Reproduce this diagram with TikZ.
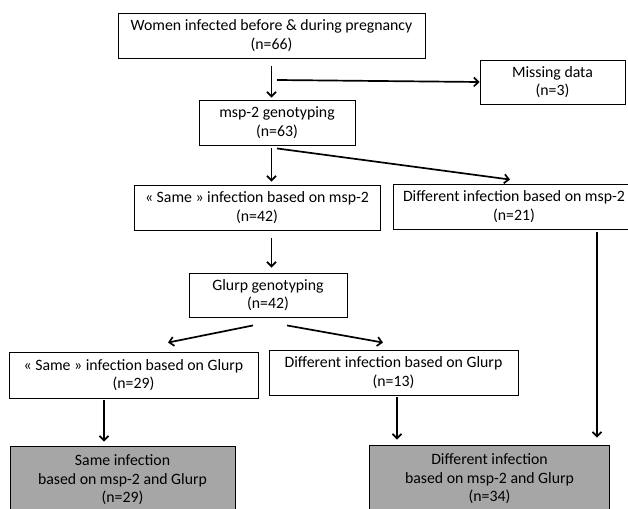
\documentclass[tikz,border=0pt]{standalone}
\usepackage{fontspec}
\setmainfont{Carlito}
\usetikzlibrary{arrows.meta}
\definecolor{boxgray}{RGB}{166,166,166}

\tikzstyle{bS}=[rectangle,draw,line width=0.9pt,inner sep=0pt,align=center,font=\fontsize{15.8}{18.5}\selectfont]
\tikzstyle{gS}=[bS,fill=boxgray,minimum height=68pt]
\tikzstyle{aS}=[line width=1.7pt,-{Straight Barb[length=4.5pt,width=9pt]}]

\begin{document}
\begin{tikzpicture}[x=1pt,y=-1pt]%[origin top left]
                \useasboundingbox (0,0) rectangle (628,508);
                \draw (271.5,35.5) node[bS,minimum width=307pt,minimum height=45pt] (women) {Women infected before \& during pregnancy\\(n=66)};
                \draw (552.5,82) node[bS,minimum width=145pt,minimum height=44pt] (missing) {Missing data\\(n=3)};
                \draw (277,122.5) node[bS,minimum width=156pt,minimum height=45pt] (msp) {msp-2 genotyping\\(n=63)};
                \draw (257,207.5) node[bS,minimum width=246pt,minimum height=45pt] (sameM) {« Same » infection based on msp-2\\(n=42)};
                \draw (514,206.5) node[bS,minimum width=242pt,minimum height=45pt] (diffM) {Different infection based on msp-2\\(n=21)};
                \draw (268,295) node[bS,minimum width=158pt,minimum height=44pt] (glurp) {Glurp genotyping\\(n=42)};
                \draw (133.5,375) node[bS,minimum width=249pt,minimum height=46pt] (sameG) {« Same » infection based on Glurp\\(n=29)};
                \draw (393.5,372.5) node[bS,minimum width=249pt,minimum height=45pt] (diffG) {Different infection based on Glurp\\(n=13)};
                \draw (122.5,480) node[gS,minimum width=225pt] (sameAll) {Same infection\\based on msp-2 and Glurp\\(n=29)};
                \draw (489.5,479) node[gS,minimum width=240pt] (diffAll) {Different infection\\based on msp-2 and Glurp\\(n=34)};
                \coordinate (split) at (277,80);
                \draw[aS,shorten <=8pt,shorten >=2pt] (women.south) -- (women.south |- msp.north);
                \draw[aS] (split) -- (missing.west);
                \draw[aS,shorten <=3pt,shorten >=3pt] (women.south |- msp.south) -- (women.south |- sameM.north);
                \draw[aS] ([yshift=-3pt]msp.south) -- ([xshift=-4pt,yshift=4pt]diffM.north);
                \draw[aS,shorten <=8pt,shorten >=5pt] (women.south |- sameM.south) -- (women.south |- glurp.north);
                \draw[aS] ([xshift=-15pt,yshift=-8pt]glurp.south) -- ([xshift=34.5pt,yshift=9pt]sameG.north);
                \draw[aS] ([xshift=19pt,yshift=-8pt]glurp.south) -- ([xshift=-10.5pt,yshift=7pt]diffG.north);
                \draw[aS,shorten <=2pt,shorten >=4pt] ([xshift=-29.5pt]sameG.south) -- ([xshift=-29.5pt]sameG.south |- sameAll.north);
                \draw[aS,shorten <=2pt,shorten >=5pt] ([xshift=3.5pt]diffG.south) -- ([xshift=3.5pt]diffG.south |- diffAll.north);
                \draw[aS,shorten <=3pt,shorten >=7pt] ([xshift=83pt]diffM.south) -- ([xshift=83pt]diffM.south |- diffAll.north);
        \end{tikzpicture}
\end{document}
